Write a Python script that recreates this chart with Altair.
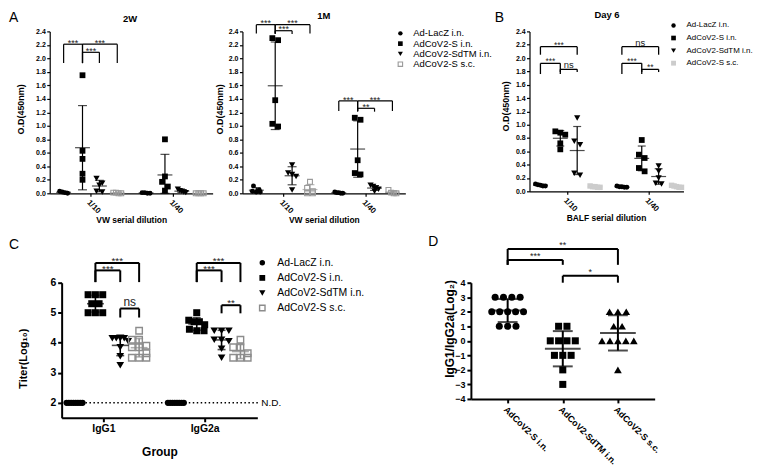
import json
import altair as alt
import numpy as np
import pandas as pd

FONT = "Liberation Sans"

SERIES = ["Ad-LacZ i.n.", "AdCoV2-S i.n.", "AdCoV2-SdTM i.n.", "AdCoV2-S s.c."]
DILUTIONS = ["1/10", "1/40"]
ISOTYPES = ["IgG1", "IgG2a"]
RATIO_GROUPS = ["AdCoV2-S i.n.", "AdCoV2-SdTM i.n.", "AdCoV2-S s.c."]

OD_TICKS = [0.0, 0.2, 0.4, 0.6, 0.8, 1.0, 1.2, 1.4, 1.6, 1.8, 2.0, 2.2, 2.4]
TITER_TICKS = [2, 3, 4, 5, 6]
RATIO_TICKS = [-4, -3, -2, -1, 0, 1, 2, 3, 4]

# Panel A, 2W  (O.D 450 nm; one list per dilution 1/10, 1/40)
W2_LACZ = [[0.03, 0.02, 0.01, 0.00], [0.01, 0.01, 0.00, 0.00]]
W2_S = [[1.75, 0.63, 0.51, 0.29, 0.20], [0.80, 0.25, 0.17, 0.10, 0.04]]
W2_SDTM = [[0.22, 0.15, 0.12, 0.03, 0.02], [0.06, 0.04, 0.03, 0.02, 0.01]]
W2_SC = [[0.01, 0.01, 0.00, 0.00], [0.00, 0.00, 0.00, 0.00]]

# Panel A, 1M
M1_LACZ = [[0.11, 0.05, 0.03, 0.02, 0.02], [0.02, 0.01, 0.01, 0.00, 0.00]]
M1_S = [[2.30, 2.27, 1.38, 1.03, 0.99], [1.12, 1.09, 0.49, 0.30, 0.28]]
M1_SDTM = [[0.42, 0.30, 0.28, 0.25, 0.05], [0.12, 0.10, 0.08, 0.06, 0.03]]
M1_SC = [[0.17, 0.08, 0.03, 0.00, 0.00], [0.05, 0.01, 0.00, 0.00]]

# Panel B, Day 6 (BALF)
D6_LACZ = [[0.11, 0.10, 0.09, 0.08, 0.08], [0.08, 0.07, 0.07, 0.06, 0.06]]
D6_S = [[0.90, 0.88, 0.85, 0.72, 0.63], [0.77, 0.55, 0.50, 0.35, 0.30]]
D6_SDTM = [[1.10, 0.75, 0.70, 0.27, 0.24], [0.38, 0.30, 0.20, 0.12, 0.11]]
D6_SC = [[0.08, 0.07, 0.07, 0.06, 0.06], [0.09, 0.08, 0.07, 0.06, 0.06]]

# Panel C, Titer (log10); one list per isotype IgG1, IgG2a
C_LACZ = [[2.0, 2.0, 2.0, 2.0, 2.0, 2.0, 2.0, 2.0], [2.0, 2.0, 2.0, 2.0, 2.0, 2.0, 2.0, 2.0]]
C_S = [[5.6, 5.6, 5.6, 5.3, 5.3, 5.0, 5.0, 5.0], [5.0, 4.75, 4.7, 4.7, 4.6, 4.45, 4.4, 4.4]]
C_SDTM = [[4.15, 4.15, 4.15, 4.15, 4.05, 3.85, 3.55, 3.25], [4.4, 4.4, 4.4, 4.1, 4.1, 4.05, 3.8, 3.5]]
C_SC = [[4.4, 4.1, 4.1, 3.9, 3.85, 3.85, 3.65, 3.5, 3.5, 3.5], [4.1, 3.85, 3.85, 3.65, 3.5, 3.5, 3.5]]

# Panel D, IgG1/IgG2a (log2)
D_S = [3, 3, 3, 3, 2, 2, 2, 2, 2, 1, 1, 1]
D_SDTM = [1, 1, 0, 0, 0, 0, -1, -1, -1, -2, -3]
D_SC = [2, 2, 2, 1, 1, 0, 0, 0, 0, 0, -2]

# significance brackets: (category, from series, to series, bar level, leg end, label)
W2_BRACKETS = [(0, 0, 1, 2.21, 1.93, "***"), (0, 1, 3, 2.21, 1.93, "***"), (0, 1, 2, 2.09, 1.93, "***")]
M1_BRACKETS = [(0, 0, 1, 2.50, 2.37, "***"), (0, 1, 3, 2.50, 2.37, "***"), (0, 1, 2, 2.41, 2.36, "***"),
               (1, 0, 1, 1.37, 1.22, "***"), (1, 1, 3, 1.37, 1.22, "***"), (1, 1, 2, 1.26, 1.21, "**")]
D6_BRACKETS = [(0, 0, 2, 2.17, 2.05, "***"), (0, 0, 1, 1.92, 1.76, "***"), (0, 1, 2, 1.83, 1.79, "ns"),
               (1, 0, 2, 2.17, 2.05, "ns"), (1, 0, 1, 1.92, 1.76, "***"), (1, 1, 2, 1.83, 1.79, "**")]
C_BRACKETS = [(0, 1, 3, 6.66, 6.02, "***"), (0, 1, 2, 6.41, 6.02, "***"), (0, 2, 3, 5.14, 4.84, "ns"),
              (1, 1, 3, 6.66, 6.02, "***"), (1, 1, 2, 6.41, 6.02, "***"), (1, 2, 3, 5.25, 4.98, "**")]
RATIO_BRACKETS = [(0, 2, 6.32, 5.23, "**"), (0, 1, 5.57, 5.23, "***"), (1, 2, 4.48, 4.0, "*")]


# ---------------------------------------------------------------- helpers
def swarm(values, ppu, d, wmax):
    order = sorted(range(len(values)), key=lambda i: -values[i])
    rows = []
    for i in order:
        py = values[i] * ppu
        if rows and abs(rows[-1][0] - py) < 0.9 * d:
            rows[-1][1].append(i)
        else:
            rows.append([py, [i]])
    offs = [0.0] * len(values)
    for _, idx in rows:
        k = len(idx)
        if k > 1:
            step = min(d * 1.05, wmax / (k - 1))
            for j, i in enumerate(idx):
                offs[i] = (j - (k - 1) / 2) * step
    return offs


def make_points(groups, ppu, g, ymin):
    pts, summ = [], []
    for cx, si, vals in groups:
        jit = swarm(vals, ppu, g["d"], g["wmax"])
        for v, j in zip(vals, jit):
            pts.append({"x": cx + j / g["pxu"], "y": v, "s": si})
        m = float(np.mean(vals))
        sd = float(np.std(vals, ddof=1))
        summ.append({"x": cx, "mean": m, "lo": max(m - sd, ymin), "hi": m + sd, "s": si})
    return pd.DataFrame(pts), pd.DataFrame(summ)


def yaxis(values, fmt, fs, title, tx, ty, tfs, tick, pad, dw):
    return alt.Axis(values=values, format=fmt, labelFontSize=fs, labelPadding=pad, tickSize=tick,
                    tickWidth=dw, domainWidth=dw, labelOverlap=False, title=title, titleFontSize=tfs,
                    titleX=tx, titleY=ty, titleAngle=270, titleAlign="center", titleBaseline="middle")


def xaxis(labels, angle, fs, title, tx, ty, tfs, tick, pad, dw, tbase="top"):
    kw = dict(values=list(range(len(labels))), labelExpr=json.dumps(labels) + "[datum.value]",
              labelAngle=angle, labelFontSize=fs, labelPadding=pad, tickSize=tick, tickWidth=dw,
              domainWidth=dw, labelOverlap=False, title=title)
    if angle:
        kw.update(labelAlign="left", labelBaseline="top")
    if title:
        kw.update(titleFontSize=tfs, titleX=tx, titleY=ty, titleAlign="center", titleBaseline=tbase)
    return alt.Axis(**kw)


def label(text, x, y, fs, weight="normal", align="center", baseline="middle", color="black"):
    return alt.Chart(pd.DataFrame({"t": [text]})).mark_text(
        font=FONT, fontSize=fs, fontWeight=weight, align=align, baseline=baseline, color=color
    ).encode(x=alt.value(x), y=alt.value(y), text="t:N")


def panel(groups, brackets, g, look, xax, yax, extras):
    xs = alt.Scale(domain=[-g["x0"] / g["pxu"], (g["w"] - g["x0"]) / g["pxu"]], nice=False, zero=False)
    ys = alt.Scale(domain=g["ydom"], nice=False, zero=False)
    ppu = g["h"] / (g["ydom"][1] - g["ydom"][0])
    pts, summ = make_points(groups, ppu, g, g["ydom"][0])
    X = alt.X("x:Q", scale=xs, axis=xax)

    def Y(field):
        return alt.Y(field, scale=ys, axis=yax)

    layers = []
    for si, lk in enumerate(look):
        p = pts[pts.s == si]
        if p.empty:
            continue
        layers.append(alt.Chart(p).mark_point(
            shape=lk["shape"], size=lk["size"], filled=lk["filled"], color=lk["color"],
            opacity=1, strokeWidth=lk["sw"]
        ).encode(x=X, y=Y("y:Q")))
    summ["c"] = [look[s]["ecolor"] for s in summ.s]
    caps = pd.concat([summ[["x", "c"]].assign(v=summ["lo"]), summ[["x", "c"]].assign(v=summ["hi"])])
    col = alt.Color("c:N", scale=None)
    layers.append(alt.Chart(summ).mark_rule(strokeWidth=g["lw"]).encode(
        x=X, y=Y("lo:Q"), y2="hi:Q", color=col))
    layers.append(alt.Chart(summ).mark_tick(orient="horizontal", size=g["mean_len"], thickness=g["lw"]).encode(
        x=X, y=Y("mean:Q"), color=col))
    layers.append(alt.Chart(caps).mark_tick(orient="horizontal", size=g["cap_len"], thickness=g["lw"]).encode(
        x=X, y=Y("v:Q"), color=col))
    H, L, T = [], [], []
    for xa, xb, lvl, leg, lab in brackets:
        H.append(dict(x=xa, x2=xb, y=lvl))
        L.append(dict(x=xa, y=lvl, y2=leg))
        L.append(dict(x=xb, y=lvl, y2=leg))
        if lab == "ns":
            fs, k, c = g["fs_ns"], 0.26, g["c_ns"]
        else:
            fs, k, c = g["fs_star"], 0.575, g["c_star"]
        T.append(dict(x=(xa + xb) / 2, y=lvl + (c - k * fs) / ppu, label=lab, fs=fs))
    if H:
        layers.append(alt.Chart(pd.DataFrame(H)).mark_rule(strokeWidth=g["blw"], color="black").encode(
            x=X, x2="x2:Q", y=Y("y:Q")))
        layers.append(alt.Chart(pd.DataFrame(L)).mark_rule(strokeWidth=g["blw"], color="black").encode(
            x=X, y=Y("y:Q"), y2="y2:Q"))
        layers.append(alt.Chart(pd.DataFrame(T)).mark_text(
            font=FONT, align="center", baseline="alphabetic", color="#222222"
        ).encode(x=X, y=Y("y:Q"), text="label:N",
                 size=alt.Size("fs:Q", scale=None, legend=None)))
    for e in extras:
        layers.append(e(X, Y) if callable(e) else e)
    return alt.layer(*layers).properties(width=g["w"], height=g["h"])


def grouped(lists, ncat, brackets, g, look, xax, yax, extras):
    groups = []
    for ci in range(ncat):
        for si, lst in enumerate(lists):
            groups.append((ci + g["offs"][si] / g["pxu"], si, lst[ci]))
    br = [(ci + g["offs"][a] / g["pxu"], ci + g["offs"][b] / g["pxu"], lv, lg, lab)
          for ci, a, b, lv, lg, lab in brackets]
    return panel(groups, br, g, look, xax, yax, extras)


def legend_cell(w, sym_x, txt_x, y0, y1, fs, look):
    ys = alt.Scale(domain=[0, 3], range=[y0, y1])
    df = pd.DataFrame({"label": SERIES, "row": [0, 1, 2, 3]})
    layers = []
    for i, lk in enumerate(look):
        layers.append(alt.Chart(df.iloc[[i]]).mark_point(
            shape=lk["shape"], size=lk["lsize"], filled=lk["filled"], color=lk["color"],
            opacity=1, strokeWidth=lk["sw"]
        ).encode(x=alt.value(sym_x), y=alt.Y("row:Q", scale=ys, axis=None)))
    layers.append(alt.Chart(df).mark_text(font=FONT, fontSize=fs, align="left", baseline="middle",
                                          color="black").encode(
        x=alt.value(txt_x), y=alt.Y("row:Q", scale=ys, axis=None), text="label:N"))
    return alt.layer(*layers).properties(width=w, height=10)


def spacer(w):
    return alt.Chart(pd.DataFrame({"t": [""]})).mark_text().encode(
        x=alt.value(0), y=alt.value(0), text="t:N").properties(width=w, height=10)


def look4(sizes, lsizes, sc_filled, sc_color, sc_sw):
    shapes = ["circle", "square", "triangle-down", "square"]
    out = []
    for i in range(4):
        sc = i == 3
        out.append(dict(shape=shapes[i], size=sizes[i], lsize=lsizes[i],
                        filled=(sc_filled if sc else True),
                        color=(sc_color if sc else "black"), ecolor=(sc_color if sc else "black"),
                        sw=(sc_sw if sc else 1)))
    return out


A_LOOK = look4([25, 34, 40, 24], [20, 22, 26, 20], False, "#9a9a9a", 1.1)
B_LOOK = look4([25, 34, 40, 30], [20, 22, 26, 24], True, "#cccccc", 1)
C_LOOK = look4([40, 50, 60, 42], [30, 34, 40, 30], False, "#8c8c8c", 1.4)
D_LOOK = [dict(shape="circle", size=50, filled=True, color="black", ecolor="black", sw=1),
          dict(shape="square", size=50, filled=True, color="black", ecolor="black", sw=1),
          dict(shape="triangle-up", size=60, filled=True, color="black", ecolor="black", sw=1)]

G_A = dict(w=164, h=163, x0=41, pxu=83, ydom=[0, 2.4], offs=[-27, -8, 9, 27], d=5.5, wmax=8,
           lw=1.2, mean_len=15, cap_len=9, blw=1.2, fs_star=9, fs_ns=9.5, c_star=3.5, c_ns=3.5)
G_B = dict(w=155, h=161, x0=38, pxu=82, ydom=[0, 2.4], offs=[-27, -7, 10, 28], d=5.5, wmax=10,
           lw=1.2, mean_len=15, cap_len=8, blw=1.3, fs_star=8.5, fs_ns=9.5, c_star=4, c_ns=3.5)
G_C = dict(w=197, h=136, x0=42, pxu=102, ydom=[1.5, 6], offs=[-29, -8, 17, 36], d=7, wmax=16,
           lw=1.6, mean_len=17, cap_len=8, blw=2, fs_star=10, fs_ns=12, c_star=4.5, c_ns=6)
G_D = dict(w=185, h=117, x0=37, pxu=55.5, ydom=[-4, 4], d=8, wmax=32,
           lw=2, mean_len=36, cap_len=20, blw=2, fs_star=9, fs_ns=9, c_star=6, c_ns=6)

# ---------------------------------------------------------------- panels
w2 = grouped([W2_LACZ, W2_S, W2_SDTM, W2_SC], 2, W2_BRACKETS, G_A, A_LOOK,
             xaxis(DILUTIONS, 45, 8, "VW serial dilution", 82, 22, 8.5, 3, 2, 1.2),
             yaxis(OD_TICKS, ".1f", 7, "O.D(450nm)", -29, 78, 9, 3, 1.5, 1.2),
             [label("A", -41, -20, 14, align="left", baseline="top"),
              label("2W", 81, -12, 9.5, "bold")])

m1 = grouped([M1_LACZ, M1_S, M1_SDTM, M1_SC], 2, M1_BRACKETS, G_A, A_LOOK,
             xaxis(DILUTIONS, 45, 8, "VW serial dilution", 82, 22, 8.5, 3, 2, 1.2),
             yaxis(OD_TICKS, ".1f", 7, "O.D(450nm)", -23, 78, 9, 3, 1.5, 1.2),
             [label("1M", 82, -15, 9.5, "bold")])

b6 = grouped([D6_LACZ, D6_S, D6_SDTM, D6_SC], 2, D6_BRACKETS, G_B, B_LOOK,
             xaxis(DILUTIONS, 45, 8, "BALF serial dilution", 77, 22, 8.5, 3, 2, 1.2),
             yaxis(OD_TICKS, ".1f", 7, "O.D(450nm)", -24, 75, 9, 3, 1.5, 1.2),
             [label("B", -35, -20, 14, align="left", baseline="top"),
              label("Day 6", 78, -16, 9.5, "bold")])

ND_LINE = pd.DataFrame({"x": [-G_C["x0"] / G_C["pxu"]], "x2": [(G_C["w"] + 2 - G_C["x0"]) / G_C["pxu"]], "y": [2.0]})


def nd_line(X, Y):
    return alt.Chart(ND_LINE).mark_rule(strokeDash=[1.5, 2.5], strokeWidth=1.4, color="black").encode(
        x=X, x2="x2:Q", y=Y("y:Q"))


def nd_text(X, Y):
    return alt.Chart(pd.DataFrame({"t": ["N.D."], "y": [2.0]})).mark_text(
        font=FONT, fontSize=10, align="left", baseline="middle", color="black"
    ).encode(x=alt.value(G_C["w"] + 4), y=Y("y:Q"), text="t:N")


cpanel = grouped([C_LACZ, C_S, C_SDTM, C_SC], 2, C_BRACKETS, G_C, C_LOOK,
                 xaxis(ISOTYPES, 0, 10.5, "Group", 98.5, 29, 12, 4, 2, 2),
                 yaxis(TITER_TICKS, "d", 10.5, "Titer(Log\u2081\u2080)", -38, 76, 11, 4, 2, 2),
                 [label("C", -53, -45, 14, align="left", baseline="top"), nd_line, nd_text])

d_groups = [(i, i, vals) for i, vals in enumerate([D_S, D_SDTM, D_SC])]
dpanel = panel(d_groups, RATIO_BRACKETS, G_D, D_LOOK,
               xaxis(RATIO_GROUPS, 45, 9, "", 0, 0, 9, 4, 2, 2),
               yaxis(RATIO_TICKS, "d", 9, "IgG1/IgG2a(Log\u2082)", -22, 46, 12, 4, 2, 2),
               [label("D", -43, -48, 14, align="left", baseline="top")])

legA = legend_cell(125, -5, 8, 2, 33, 9.5, A_LOOK)
legB = legend_cell(60, -10, 3, -6, 32, 8, B_LOOK)
legC = legend_cell(215, 5, 20, -20, 25.5, 10.5, C_LOOK)

row1 = alt.hconcat(w2, spacer(30), m1, legA, b6, legB, spacing=0, bounds="flush")
row2 = alt.hconcat(spacer(12), cpanel, legC, dpanel, spacing=0, bounds="flush")

chart = alt.vconcat(row1, row2, spacing=10).properties(padding=0).configure_view(
    stroke="transparent"
).configure_axis(
    labelFont=FONT, titleFont=FONT, labelFontWeight="bold", titleFontWeight="bold",
    labelColor="black", titleColor="black", domainColor="black", tickColor="black", grid=False
)

chart.save("out.html", embed_options={"renderer": "svg", "actions": False})
